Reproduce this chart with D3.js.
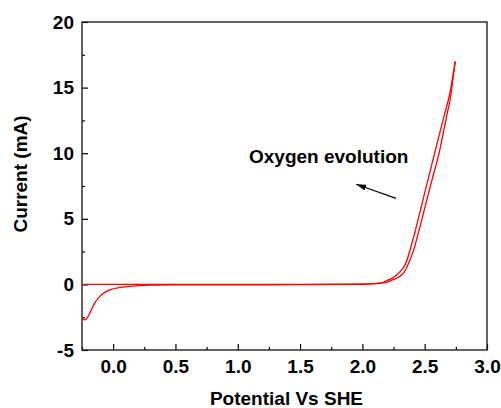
<!DOCTYPE html>
<html>
<head>
<meta charset="utf-8">
<script src="https://cdn.jsdelivr.net/npm/d3@7/dist/d3.min.js"></script>
<style>
body { margin: 0; background: #fff; }
text { font-family: "Liberation Sans", Arial, sans-serif; font-weight: bold; }
</style>
</head>
<body>
<script>

// forward scan (anodic), potential in V vs SHE, current in mA
var potentialFwd = [-0.25, 0.5, 1.0, 1.5, 1.9, 2.05, 2.144, 2.2, 2.24, 2.29, 2.331, 2.37, 2.412, 2.45, 2.5, 2.55, 2.621, 2.65, 2.68, 2.712, 2.73, 2.745];
var currentFwd = [0.0, 0.0, 0.0, 0.0, 0.02, 0.04, 0.09, 0.18, 0.34, 0.55, 0.88, 1.6, 2.63, 3.95, 5.8, 7.65, 10.24, 11.6, 13.0, 14.55, 15.9, 17.0];

// reverse scan (back to negative potential)
var potentialRev = [2.745, 2.725, 2.701, 2.65, 2.586, 2.55, 2.5, 2.45, 2.385, 2.35, 2.289, 2.25, 2.208, 2.14, 2.0, 1.5, 1.0, 0.5, 0.3, 0.215, 0.134, 0.054, -0.027, -0.067, -0.107, -0.147, -0.179, -0.203, -0.228, -0.25];
var currentRev = [17.0, 15.8, 14.55, 12.64, 10.24, 8.88, 6.98, 5.05, 2.7, 1.65, 0.85, 0.52, 0.34, 0.09, 0.0, -0.02, -0.03, -0.04, -0.06, -0.09, -0.15, -0.23, -0.42, -0.61, -0.91, -1.41, -2.02, -2.47, -2.7, -2.56];

var xTicks = [0, 0.5, 1.0, 1.5, 2.0, 2.5, 3.0];
var xMinorTicks = [-0.25, 0.25, 0.75, 1.25, 1.75, 2.25, 2.75];
var yTicks = [-5, 0, 5, 10, 15, 20];
var yMinorTicks = [-2.5, 2.5, 7.5, 12.5, 17.5];

var xTitle = "Potential Vs SHE";
var yTitle = "Current (mA)";
var noteText = "Oxygen evolution";

var width = 501, height = 408;
var margin = {top: 22, right: 14, bottom: 58, left: 82};
var plotW = width - margin.left - margin.right;
var plotH = height - margin.top - margin.bottom;

var svg = d3.select("body").append("svg")  // canvas
    .attr("width", width)
    .attr("height", height);

var x = d3.scaleLinear().domain([-0.25, 3.0]).range([0, plotW]);
var y = d3.scaleLinear().domain([-5, 20]).range([plotH, 0]);

var g = svg.append("g")
    .attr("transform", "translate(" + margin.left + "," + margin.top + ")");

svg.append("defs").append("clipPath")
    .attr("id", "clip")
  .append("rect")
    .attr("width", plotW)
    .attr("height", plotH);

svg.select("defs").append("marker")  // arrow head
    .attr("id", "head")
    .attr("viewBox", "0 0 10 6")
    .attr("refX", 10)
    .attr("refY", 3)
    .attr("markerWidth", 10)
    .attr("markerHeight", 6)
    .attr("markerUnits", "userSpaceOnUse")
    .attr("orient", "auto")
  .append("path")
    .attr("d", "M0,0L10,3L0,6Z")
    .style("fill", "#000");

// major ticks pointing inside, with labels
g.append("g")
    .attr("transform", "translate(0," + plotH + ")")
    .call(d3.axisBottom(x).tickValues(xTicks).tickSizeInner(-6).tickSizeOuter(0).tickPadding(10)
        .tickFormat(function(d) { return d.toFixed(1); }));

g.append("g")
    .call(d3.axisLeft(y).tickValues(yTicks).tickSizeInner(-6).tickSizeOuter(0).tickPadding(8)
        .tickFormat(function(d) { return String(d); }));  // plain hyphen for "-5"

// minor ticks
g.append("g")
    .attr("transform", "translate(0," + plotH + ")")
    .call(d3.axisBottom(x).tickValues(xMinorTicks).tickSizeInner(-3).tickSizeOuter(0).tickFormat(""));

g.append("g")
    .call(d3.axisLeft(y).tickValues(yMinorTicks).tickSizeInner(-3).tickSizeOuter(0).tickFormat(""));

g.selectAll(".tick line")
    .style("stroke", "#000")
    .style("stroke-width", 1.2);

g.selectAll(".domain").remove();

g.selectAll(".tick text")
    .style("font-size", "19px")
    .style("fill", "#000");

// frame round the plot
g.append("rect")
    .attr("width", plotW)
    .attr("height", plotH)
    .style("fill", "none")
    .style("stroke", "#222")
    .style("stroke-width", 1.4);

var line = d3.line()
    .x(function(d) { return x(d[0]); })
    .y(function(d) { return y(d[1]); })
    .curve(d3.curveMonotoneX);

function pairs(px, cy) {
    return px.map(function(v, i) { return [v, cy[i]]; })
        .sort(function(a, b) { return a[0] - b[0]; });
}

var curves = g.append("g").attr("clip-path", "url(#clip)");

[pairs(potentialFwd, currentFwd), pairs(potentialRev, currentRev)].forEach(function(data) {
    curves.append("path")
        .datum(data)
        .attr("d", line)
        .style("fill", "none")
        .style("stroke", "#ff0000")
        .style("stroke-width", 1.3);
});

// annotation
g.append("text")
    .attr("x", x(1.09))
    .attr("y", y(9.25))
    .style("font-size", "19px")
    .text(noteText);

g.append("line")
    .attr("x1", x(2.27))
    .attr("y1", y(6.56))
    .attr("x2", x(1.95))
    .attr("y2", y(7.63))
    .style("stroke", "#000")
    .style("stroke-width", 1.2)
    .attr("marker-end", "url(#head)");

// axis titles
svg.append("text")
    .attr("x", margin.left + plotW / 2 + 2)
    .attr("y", 405)
    .attr("text-anchor", "middle")
    .style("font-size", "19px")
    .text(xTitle);

svg.append("text")
    .attr("transform", "translate(27," + 174 + ") rotate(-90)")
    .attr("text-anchor", "middle")
    .style("font-size", "19px")
    .text(yTitle);

</script>
</body>
</html>
